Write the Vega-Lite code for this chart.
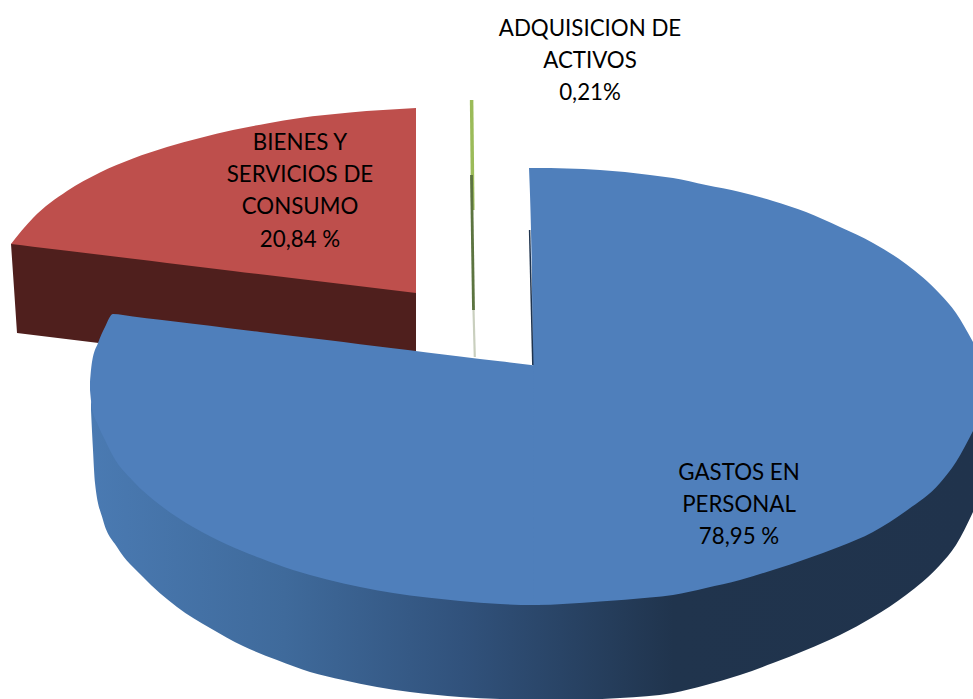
{
  "$schema": "https://vega.github.io/schema/vega-lite/v6.json",
  "width": 973,
  "height": 699,
  "autosize": {"type": "fit", "contains": "padding"},
  "padding": 0,
  "background": "white",
  "config": {"view": {"stroke": null}},
  "datasets": {
    "redSide": [
      {"x": 11, "y": 244, "y2": 244},
      {"x": 14, "y": 243, "y2": 288},
      {"x": 17, "y": 242, "y2": 333},
      {"x": 416, "y": 290, "y2": 382}
    ],
    "redTop": [
      {"x": 11, "y": 244, "y2": 244},
      {"x": 33, "y": 218, "y2": 246.7},
      {"x": 67, "y": 191, "y2": 250.8},
      {"x": 100, "y": 172.5, "y2": 254.8},
      {"x": 133, "y": 158.5, "y2": 258.8},
      {"x": 167, "y": 147, "y2": 262.9},
      {"x": 200, "y": 138, "y2": 266.9},
      {"x": 233, "y": 130, "y2": 270.9},
      {"x": 267, "y": 123.5, "y2": 275},
      {"x": 300, "y": 118, "y2": 279},
      {"x": 350, "y": 112.5, "y2": 285},
      {"x": 416, "y": 108, "y2": 293}
    ],
    "blueSide": [
      {"x": 91, "y": 400, "y2": 410},
      {"x": 93, "y": 407, "y2": 450},
      {"x": 95, "y": 412, "y2": 483},
      {"x": 103, "y": 431, "y2": 520},
      {"x": 117, "y": 456, "y2": 547},
      {"x": 143, "y": 485, "y2": 577},
      {"x": 177, "y": 510, "y2": 607},
      {"x": 210, "y": 531, "y2": 628},
      {"x": 243, "y": 546, "y2": 646},
      {"x": 277, "y": 559, "y2": 660},
      {"x": 310, "y": 570, "y2": 672},
      {"x": 343, "y": 578, "y2": 680},
      {"x": 377, "y": 584, "y2": 687},
      {"x": 410, "y": 589, "y2": 692},
      {"x": 460, "y": 595, "y2": 697},
      {"x": 500, "y": 598, "y2": 699},
      {"x": 560, "y": 599, "y2": 700},
      {"x": 620, "y": 594, "y2": 698},
      {"x": 673, "y": 589, "y2": 693},
      {"x": 706, "y": 582, "y2": 685},
      {"x": 740, "y": 574, "y2": 675},
      {"x": 773, "y": 564, "y2": 663},
      {"x": 806, "y": 552, "y2": 650},
      {"x": 840, "y": 541, "y2": 635},
      {"x": 873, "y": 526, "y2": 617},
      {"x": 906, "y": 505, "y2": 595},
      {"x": 940, "y": 477, "y2": 565},
      {"x": 956, "y": 456, "y2": 545},
      {"x": 973, "y": 425, "y2": 512}
    ],
    "blueTop": [
      {"part": "a", "x": 90, "y": 382, "y2": 390},
      {"part": "a", "x": 92, "y": 362, "y2": 408},
      {"part": "a", "x": 98, "y": 343, "y2": 425},
      {"part": "a", "x": 105, "y": 327, "y2": 440},
      {"part": "a", "x": 113, "y": 314, "y2": 456},
      {"part": "a", "x": 133, "y": 316.4, "y2": 481},
      {"part": "a", "x": 160, "y": 319.7, "y2": 505},
      {"part": "a", "x": 193, "y": 323.8, "y2": 527},
      {"part": "a", "x": 227, "y": 327.9, "y2": 544.5},
      {"part": "a", "x": 260, "y": 332, "y2": 558},
      {"part": "a", "x": 293, "y": 336, "y2": 570},
      {"part": "a", "x": 327, "y": 340, "y2": 579.5},
      {"part": "a", "x": 360, "y": 344.2, "y2": 587},
      {"part": "a", "x": 393, "y": 348.2, "y2": 593},
      {"part": "a", "x": 427, "y": 352.4, "y2": 597.5},
      {"part": "a", "x": 460, "y": 356.4, "y2": 601},
      {"part": "a", "x": 500, "y": 361.3, "y2": 604},
      {"part": "a", "x": 533, "y": 365.3, "y2": 605},
      {"part": "a", "x": 540, "y": 366, "y2": 605},
      {"part": "b", "x": 529, "y": 168, "y2": 168},
      {"part": "b", "x": 533, "y": 168, "y2": 365.3},
      {"part": "b", "x": 534, "y": 168, "y2": 605},
      {"part": "b", "x": 600, "y": 170, "y2": 601.5},
      {"part": "b", "x": 650, "y": 175, "y2": 597.5},
      {"part": "b", "x": 673, "y": 178, "y2": 595},
      {"part": "b", "x": 706, "y": 185, "y2": 588},
      {"part": "b", "x": 740, "y": 192, "y2": 580},
      {"part": "b", "x": 773, "y": 201, "y2": 570},
      {"part": "b", "x": 806, "y": 212, "y2": 559},
      {"part": "b", "x": 840, "y": 227, "y2": 546.5},
      {"part": "b", "x": 873, "y": 243, "y2": 532},
      {"part": "b", "x": 906, "y": 264, "y2": 511},
      {"part": "b", "x": 940, "y": 294, "y2": 483},
      {"part": "b", "x": 956, "y": 313, "y2": 462},
      {"part": "b", "x": 973, "y": 342, "y2": 431}
    ],
    "slivers": [
      {"part": "green", "x": 471.6, "y": 100},
      {"part": "green", "x": 472.8, "y": 210},
      {"part": "greenDark", "x": 471.5, "y": 175},
      {"part": "greenDark", "x": 473.5, "y": 310},
      {"part": "greenPale", "x": 473.5, "y": 310},
      {"part": "greenPale", "x": 474.8, "y": 357},
      {"part": "blueEdge", "x": 529.6, "y": 230},
      {"part": "blueEdge", "x": 532.8, "y": 365}
    ],
    "labels": [
      {"label": "ADQUISICION DE", "x": 590, "y": 29},
      {"label": "ACTIVOS", "x": 590, "y": 61},
      {"label": "0,21%", "x": 590, "y": 93},
      {"label": "BIENES Y", "x": 300, "y": 143},
      {"label": "SERVICIOS DE", "x": 300, "y": 175},
      {"label": "CONSUMO", "x": 300, "y": 207},
      {"label": "20,84 %", "x": 300, "y": 240},
      {"label": "GASTOS EN", "x": 739, "y": 473},
      {"label": "PERSONAL", "x": 739, "y": 505},
      {"label": "78,95 %", "x": 739, "y": 537}
    ]
  },
  "encoding": {
    "x": {"field": "x", "type": "quantitative", "scale": {"domain": [0, 973], "nice": false, "zero": false}, "axis": null},
    "y": {"field": "y", "type": "quantitative", "scale": {"domain": [699, 0], "nice": false, "zero": false}, "axis": null}
  },
  "layer": [
    {
      "data": {"name": "redSide"},
      "mark": {"type": "area", "orient": "vertical", "fill": "#4F1F1D", "clip": true},
      "encoding": {"y2": {"field": "y2"}}
    },
    {
      "data": {"name": "redTop"},
      "mark": {"type": "area", "orient": "vertical", "fill": "#BE4F4C", "clip": true, "interpolate": "monotone"},
      "encoding": {"y2": {"field": "y2"}}
    },
    {
      "data": {"name": "blueSide"},
      "mark": {
        "type": "area",
        "orient": "vertical",
        "clip": true,
        "interpolate": "monotone",
        "fill": {
          "gradient": "linear", "x1": 0, "y1": 0, "x2": 1, "y2": 0,
          "stops": [
            {"offset": 0, "color": "#4A7AB2"},
            {"offset": 0.22, "color": "#3F6A9B"},
            {"offset": 0.42, "color": "#31527C"},
            {"offset": 0.66, "color": "#20344D"},
            {"offset": 1, "color": "#20334C"}
          ]
        }
      },
      "encoding": {"y2": {"field": "y2"}}
    },
    {
      "data": {"name": "blueTop"},
      "mark": {"type": "area", "orient": "vertical", "fill": "#4F7FBB", "clip": true, "interpolate": "monotone"},
      "encoding": {"y2": {"field": "y2"}, "detail": {"field": "part"}}
    },
    {
      "data": {"name": "slivers"},
      "mark": {"type": "line", "clip": true},
      "encoding": {
        "color": {
          "field": "part",
          "type": "nominal",
          "legend": null,
          "scale": {
            "domain": ["green", "greenDark", "greenPale", "blueEdge"],
            "range": ["#9BBB59", "#5C7440", "#C9CFBE", "#1F344F"]
          }
        },
        "strokeWidth": {
          "field": "part",
          "type": "nominal",
          "legend": null,
          "scale": {
            "domain": ["green", "greenDark", "greenPale", "blueEdge"],
            "range": [3.5, 1.5, 1.5, 1.2]
          }
        }
      }
    },
    {
      "data": {"name": "labels"},
      "mark": {"type": "text", "font": "Lato", "fontSize": 22.3, "color": "black", "align": "center", "baseline": "middle"},
      "encoding": {"text": {"field": "label"}}
    }
  ]
}
